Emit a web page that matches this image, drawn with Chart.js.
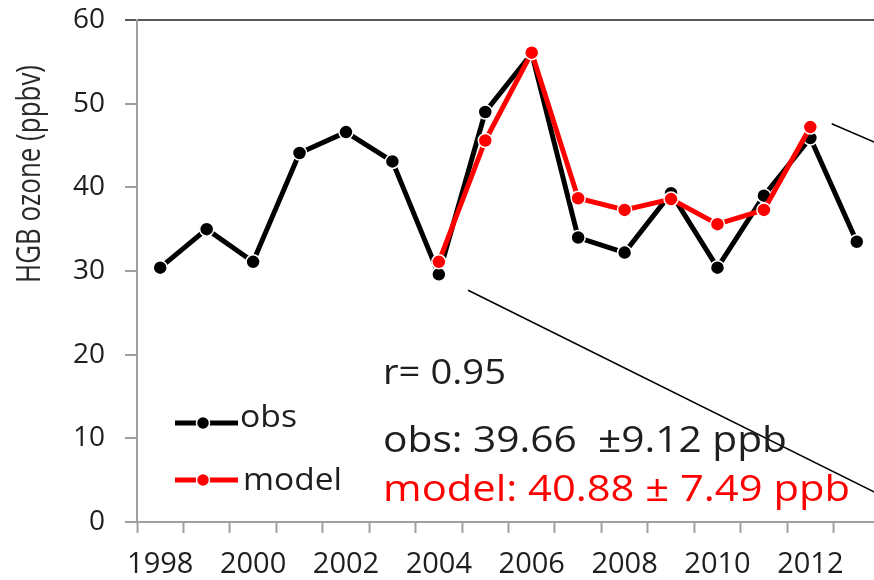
<!DOCTYPE html>
<html>
<head>
<meta charset="utf-8">
<script src="https://cdn.jsdelivr.net/npm/chart.js@4.4.1/dist/chart.umd.min.js"></script>
<style>
  html, body { margin: 0; padding: 0; background: #fff; overflow: hidden; }
  #wrap { width: 890px; height: 580px; }
</style>
</head>
<body>
<div id="wrap"><canvas id="c" width="890" height="580"></canvas></div>
<script>
// ---- data ----
const years = ['1998','1999','2000','2001','2002','2003','2004','2005',
               '2006','2007','2008','2009','2010','2011','2012','2013'];
const obsValues   = [30.4, 35.0, 31.1, 44.1, 46.6, 43.1, 29.6, 49.0,
                     56.0, 34.0, 32.2, 39.3, 30.4, 39.0, 45.9, 33.5];
const modelValues = [null, null, null, null, null, null, 31.1, 45.6,
                     56.1, 38.7, 37.3, 38.6, 35.6, 37.3, 47.2, null];
const yTickValues = [0, 10, 20, 30, 40, 50, 60];
// zoom-out guide lines (year, ppbv)
const guideLower = [{ x: 2004.63, y: 27.7 }, { x: 2013.5, y: 3.25 }];
const guideUpper = [{ x: 2012.46, y: 47.6 }, { x: 2013.5, y: 45.1 }];
const seriesNames = ['obs', 'model'];
const statLines = ['r= 0.95', 'obs: 39.66  \u00B19.12 ppb', 'model: 40.88 \u00B1 7.49 ppb'];
const yTitle = 'HGB ozone (ppbv)';

// ---- styling ----
const FONT = '"Open Sans", Lato, sans-serif';
const OBS_COLOR = '#000000';
const MODEL_COLOR = '#ff0000';
const AXIS_GRAY = '#a0a0a0';
const TEXT_DARK = '#1e1e1e';

// text drawn at a given size and fitted to a given width
function fitText(ctx, str, x, y, size, color, width) {
  ctx.save();
  ctx.font = size + 'px ' + FONT;
  const w = ctx.measureText(str).width;
  ctx.translate(x, y);
  ctx.scale(width / w, 1);
  ctx.fillStyle = color;
  ctx.textBaseline = 'alphabetic';
  ctx.textAlign = 'left';
  ctx.fillText(str, 0, 0);
  ctx.restore();
}

const overlay = {
  id: 'overlay',
  afterDatasetsDraw(chart) {
    const ctx = chart.ctx;

    // y axis title, rotated
    ctx.save();
    ctx.font = '27px ' + FONT;
    const tw = ctx.measureText(yTitle).width;
    ctx.translate(31, 174);
    ctx.rotate(-Math.PI / 2);
    ctx.scale(218 / tw, 1.2);
    ctx.fillStyle = '#2a2a2a';
    ctx.textAlign = 'center';
    ctx.textBaseline = 'middle';
    ctx.fillText(yTitle, 0, 0);
    ctx.restore();

    // statistics block
    fitText(ctx, statLines[0], 383, 384, 35, TEXT_DARK, 123);
    fitText(ctx, statLines[1], 383, 452, 36, TEXT_DARK, 404);
    fitText(ctx, statLines[2], 383, 501, 36, MODEL_COLOR, 467);

    // legend
    const rows = [
      { y: 423, base: 427, width: 57, x: 240 },
      { y: 480, base: 490, width: 99, x: 243 }
    ];
    rows.forEach((r, i) => {
      const ds = chart.data.datasets.find(d => d.label === seriesNames[i]);
      const col = ds.borderColor;
      ctx.save();
      ctx.strokeStyle = col;
      ctx.lineWidth = 5;
      ctx.beginPath();
      ctx.moveTo(175, r.y);
      ctx.lineTo(238, r.y);
      ctx.stroke();
      ctx.beginPath();
      ctx.arc(203, r.y, 6.5, 0, Math.PI * 2);
      ctx.fillStyle = col;
      ctx.fill();
      ctx.lineWidth = 1.5;
      ctx.strokeStyle = '#fff';
      ctx.stroke();
      ctx.restore();
      fitText(ctx, seriesNames[i], r.x, r.base, 31, TEXT_DARK, r.width);
    });
  }
};

const ctx = document.getElementById('c').getContext('2d');
new Chart(ctx, {
  type: 'line',
  data: {
    labels: years,
    datasets: [
      {
        label: seriesNames[1],
        data: modelValues,
        borderColor: MODEL_COLOR,
        backgroundColor: MODEL_COLOR,
        borderWidth: 5,
        pointRadius: 7,
        pointBackgroundColor: MODEL_COLOR,
        pointBorderColor: '#ffffff',
        pointBorderWidth: 1.5,
        tension: 0,
        spanGaps: false,
        order: 0
      },
      {
        label: seriesNames[0],
        data: obsValues,
        borderColor: OBS_COLOR,
        backgroundColor: OBS_COLOR,
        borderWidth: 5,
        pointRadius: 7,
        pointBackgroundColor: OBS_COLOR,
        pointBorderColor: '#ffffff',
        pointBorderWidth: 1.5,
        tension: 0,
        order: 1
      },
      {
        label: 'guide-lower',
        data: guideLower,
        xAxisID: 'xl',
        borderColor: '#000',
        borderWidth: 1.5,
        pointRadius: 0,
        order: 2
      },
      {
        label: 'guide-upper',
        data: guideUpper,
        xAxisID: 'xl',
        borderColor: '#000',
        borderWidth: 1.5,
        pointRadius: 0,
        order: 2
      }
    ]
  },
  options: {
    responsive: false,
    animation: false,
    devicePixelRatio: 1,
    layout: { padding: { top: 20, right: 10, left: 0, bottom: 0 } },
    plugins: { legend: { display: false }, tooltip: { enabled: false } },
    scales: {
      x: {
        type: 'category',
        offset: true,
        afterFit: s => { s.height = 58; s.paddingLeft = 0; s.paddingRight = 0; },
        grid: {
          offset: true,
          drawOnChartArea: false,
          drawTicks: true,
          tickLength: 11,
          tickColor: AXIS_GRAY,
          tickWidth: 2
        },
        border: { display: true, color: AXIS_GRAY, width: 2 },
        ticks: {
          autoSkip: false,
          maxRotation: 0,
          padding: 14,
          color: TEXT_DARK,
          font: { family: FONT, size: 29 },
          callback: function (v) {
            const lab = this.getLabelForValue(v);
            return (Number(lab) % 2 === 0) ? lab : '';
          }
        }
      },
      xl: {
        type: 'linear',
        display: false,
        min: 1997.5,
        max: 2013.5
      },
      y: {
        min: 0,
        max: 60,
        afterFit: s => { s.width = 137; s.paddingTop = 0; s.paddingBottom = 0; },
        afterBuildTicks: s => { s.ticks = yTickValues.map(v => ({ value: v })); },
        grid: {
          drawOnChartArea: true,
          color: c => (c.tick && c.tick.value === 60) ? '#595959' : 'rgba(0,0,0,0)',
          lineWidth: 2,
          tickLength: 12,
          tickColor: c => (c.tick && c.tick.value === 60) ? '#595959' : AXIS_GRAY,
          tickWidth: 2
        },
        border: { display: true, color: AXIS_GRAY, width: 2 },
        ticks: {
          padding: 20,
          color: TEXT_DARK,
          font: { family: FONT, size: 28 }
        }
      }
    }
  },
  plugins: [overlay]
});
</script>
</body>
</html>
